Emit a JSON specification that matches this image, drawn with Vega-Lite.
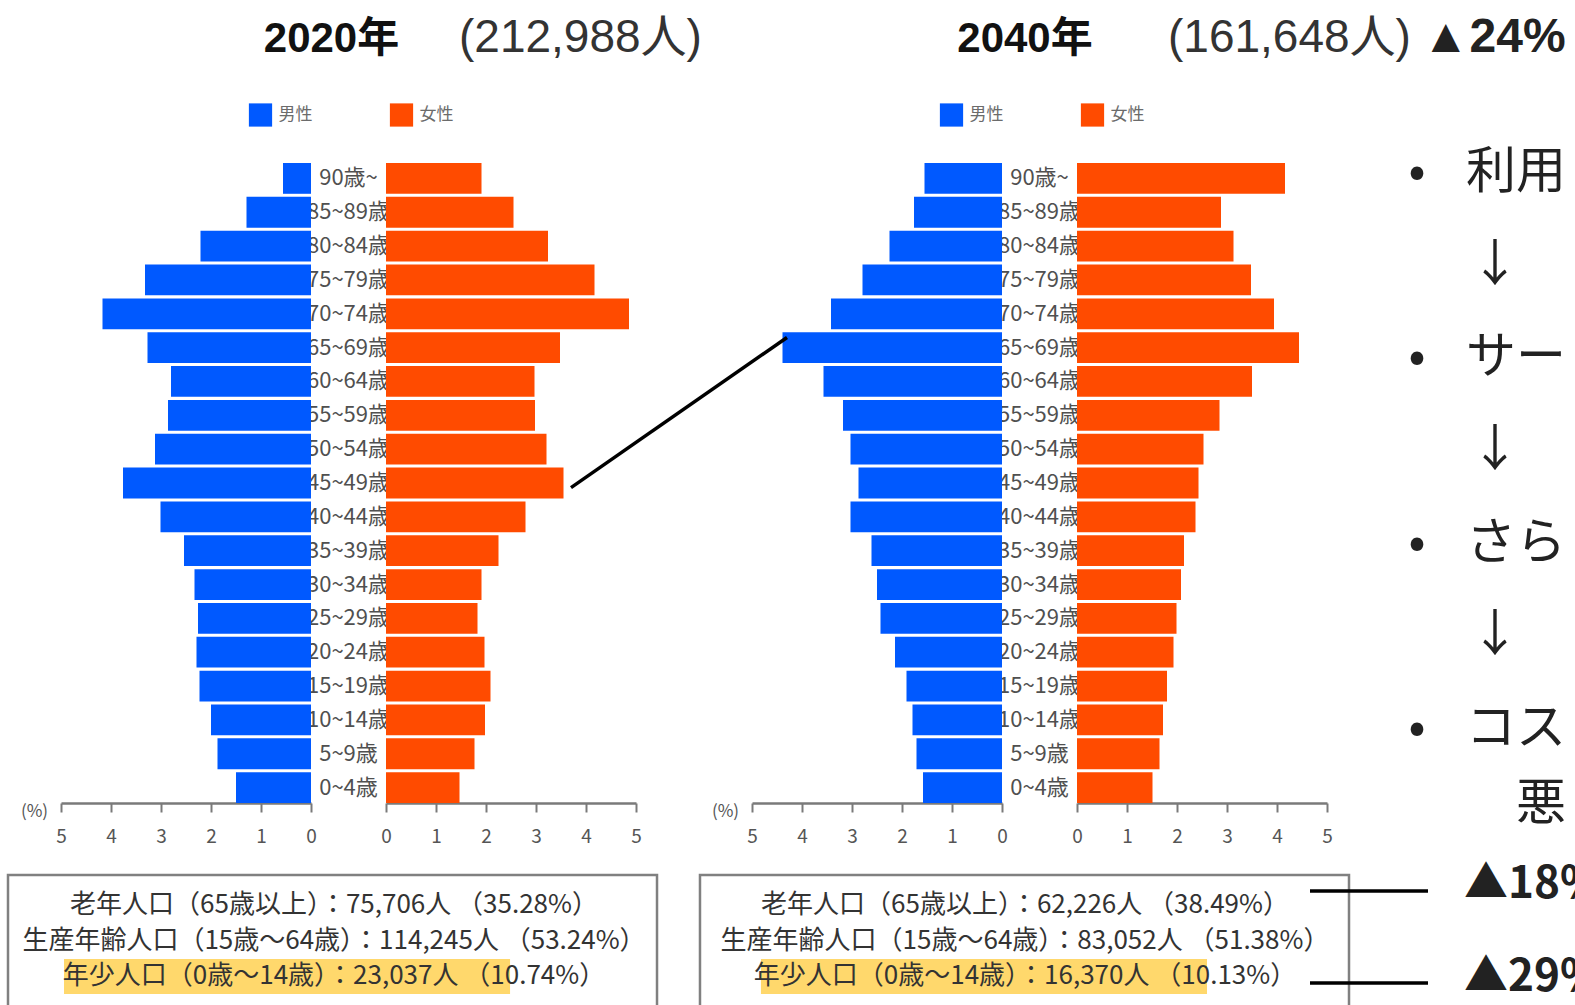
{
  "$schema": "https://vega.github.io/schema/vega-lite/v6.json",
  "width": 1575,
  "height": 1005,
  "autosize": "none",
  "padding": 0,
  "background": "white",
  "config": {
    "view": {"stroke": null},
    "font": "Noto Sans CJK JP",
    "axis": {
      "grid": false,
      "labelFont": "Noto Sans CJK JP",
      "labelFontSize": 19,
      "labelColor": "#555555",
      "labelFlush": false,
      "labelOverlap": false,
      "labelPadding": 15,
      "domainColor": "#7a7a7a",
      "domainWidth": 2.5,
      "tickColor": "#7a7a7a",
      "tickWidth": 2,
      "tickSize": 9,
      "titleFont": "Noto Sans CJK JP",
      "titleFontSize": 17,
      "titleFontWeight": "normal",
      "titleColor": "#555555"
    }
  },
  "datasets": {
    "pop": [
      {"year": "2020", "sex": "男性", "age": "90歳~", "pct": 0.56},
      {"year": "2020", "sex": "男性", "age": "85~89歳", "pct": 1.29},
      {"year": "2020", "sex": "男性", "age": "80~84歳", "pct": 2.21},
      {"year": "2020", "sex": "男性", "age": "75~79歳", "pct": 3.32},
      {"year": "2020", "sex": "男性", "age": "70~74歳", "pct": 4.17},
      {"year": "2020", "sex": "男性", "age": "65~69歳", "pct": 3.27},
      {"year": "2020", "sex": "男性", "age": "60~64歳", "pct": 2.80},
      {"year": "2020", "sex": "男性", "age": "55~59歳", "pct": 2.86},
      {"year": "2020", "sex": "男性", "age": "50~54歳", "pct": 3.12},
      {"year": "2020", "sex": "男性", "age": "45~49歳", "pct": 3.76},
      {"year": "2020", "sex": "男性", "age": "40~44歳", "pct": 3.01},
      {"year": "2020", "sex": "男性", "age": "35~39歳", "pct": 2.54},
      {"year": "2020", "sex": "男性", "age": "30~34歳", "pct": 2.33},
      {"year": "2020", "sex": "男性", "age": "25~29歳", "pct": 2.26},
      {"year": "2020", "sex": "男性", "age": "20~24歳", "pct": 2.29},
      {"year": "2020", "sex": "男性", "age": "15~19歳", "pct": 2.23},
      {"year": "2020", "sex": "男性", "age": "10~14歳", "pct": 2.00},
      {"year": "2020", "sex": "男性", "age": "5~9歳", "pct": 1.87},
      {"year": "2020", "sex": "男性", "age": "0~4歳", "pct": 1.50},
      {"year": "2020", "sex": "女性", "age": "90歳~", "pct": 1.91},
      {"year": "2020", "sex": "女性", "age": "85~89歳", "pct": 2.55},
      {"year": "2020", "sex": "女性", "age": "80~84歳", "pct": 3.24},
      {"year": "2020", "sex": "女性", "age": "75~79歳", "pct": 4.17},
      {"year": "2020", "sex": "女性", "age": "70~74歳", "pct": 4.86},
      {"year": "2020", "sex": "女性", "age": "65~69歳", "pct": 3.48},
      {"year": "2020", "sex": "女性", "age": "60~64歳", "pct": 2.97},
      {"year": "2020", "sex": "女性", "age": "55~59歳", "pct": 2.98},
      {"year": "2020", "sex": "女性", "age": "50~54歳", "pct": 3.21},
      {"year": "2020", "sex": "女性", "age": "45~49歳", "pct": 3.55},
      {"year": "2020", "sex": "女性", "age": "40~44歳", "pct": 2.79},
      {"year": "2020", "sex": "女性", "age": "35~39歳", "pct": 2.25},
      {"year": "2020", "sex": "女性", "age": "30~34歳", "pct": 1.91},
      {"year": "2020", "sex": "女性", "age": "25~29歳", "pct": 1.83},
      {"year": "2020", "sex": "女性", "age": "20~24歳", "pct": 1.97},
      {"year": "2020", "sex": "女性", "age": "15~19歳", "pct": 2.09},
      {"year": "2020", "sex": "女性", "age": "10~14歳", "pct": 1.98},
      {"year": "2020", "sex": "女性", "age": "5~9歳", "pct": 1.77},
      {"year": "2020", "sex": "女性", "age": "0~4歳", "pct": 1.47},
      {"year": "2040", "sex": "男性", "age": "90歳~", "pct": 1.55},
      {"year": "2040", "sex": "男性", "age": "85~89歳", "pct": 1.76},
      {"year": "2040", "sex": "男性", "age": "80~84歳", "pct": 2.25},
      {"year": "2040", "sex": "男性", "age": "75~79歳", "pct": 2.79},
      {"year": "2040", "sex": "男性", "age": "70~74歳", "pct": 3.42},
      {"year": "2040", "sex": "男性", "age": "65~69歳", "pct": 4.39},
      {"year": "2040", "sex": "男性", "age": "60~64歳", "pct": 3.57},
      {"year": "2040", "sex": "男性", "age": "55~59歳", "pct": 3.18},
      {"year": "2040", "sex": "男性", "age": "50~54歳", "pct": 3.03},
      {"year": "2040", "sex": "男性", "age": "45~49歳", "pct": 2.87},
      {"year": "2040", "sex": "男性", "age": "40~44歳", "pct": 3.03},
      {"year": "2040", "sex": "男性", "age": "35~39歳", "pct": 2.61},
      {"year": "2040", "sex": "男性", "age": "30~34歳", "pct": 2.50},
      {"year": "2040", "sex": "男性", "age": "25~29歳", "pct": 2.43},
      {"year": "2040", "sex": "男性", "age": "20~24歳", "pct": 2.14},
      {"year": "2040", "sex": "男性", "age": "15~19歳", "pct": 1.91},
      {"year": "2040", "sex": "男性", "age": "10~14歳", "pct": 1.79},
      {"year": "2040", "sex": "男性", "age": "5~9歳", "pct": 1.71},
      {"year": "2040", "sex": "男性", "age": "0~4歳", "pct": 1.58},
      {"year": "2040", "sex": "女性", "age": "90歳~", "pct": 4.16},
      {"year": "2040", "sex": "女性", "age": "85~89歳", "pct": 2.88},
      {"year": "2040", "sex": "女性", "age": "80~84歳", "pct": 3.13},
      {"year": "2040", "sex": "女性", "age": "75~79歳", "pct": 3.48},
      {"year": "2040", "sex": "女性", "age": "70~74歳", "pct": 3.94},
      {"year": "2040", "sex": "女性", "age": "65~69歳", "pct": 4.44},
      {"year": "2040", "sex": "女性", "age": "60~64歳", "pct": 3.50},
      {"year": "2040", "sex": "女性", "age": "55~59歳", "pct": 2.85},
      {"year": "2040", "sex": "女性", "age": "50~54歳", "pct": 2.53},
      {"year": "2040", "sex": "女性", "age": "45~49歳", "pct": 2.43},
      {"year": "2040", "sex": "女性", "age": "40~44歳", "pct": 2.37},
      {"year": "2040", "sex": "女性", "age": "35~39歳", "pct": 2.14},
      {"year": "2040", "sex": "女性", "age": "30~34歳", "pct": 2.08},
      {"year": "2040", "sex": "女性", "age": "25~29歳", "pct": 1.99},
      {"year": "2040", "sex": "女性", "age": "20~24歳", "pct": 1.93},
      {"year": "2040", "sex": "女性", "age": "15~19歳", "pct": 1.80},
      {"year": "2040", "sex": "女性", "age": "10~14歳", "pct": 1.72},
      {"year": "2040", "sex": "女性", "age": "5~9歳", "pct": 1.65},
      {"year": "2040", "sex": "女性", "age": "0~4歳", "pct": 1.51}
    ],
    "header": [
      {"year": "2020", "part": "year", "text": "2020年"},
      {"year": "2040", "part": "year", "text": "2040年"},
      {"year": "2020", "part": "total", "text": "(212,988人)"},
      {"year": "2040", "part": "total", "text": "(161,648人)"},
      {"year": "2040", "part": "change", "text": "▲24%"}
    ],
    "legend": [
      {"year": "2020", "sex": "男性"},
      {"year": "2020", "sex": "女性"},
      {"year": "2040", "sex": "男性"},
      {"year": "2040", "sex": "女性"}
    ],
    "footer": [
      {"year": "2020", "line": "1", "text": "老年人口（65歳以上）：75,706人 （35.28%）"},
      {"year": "2020", "line": "2", "text": "生産年齢人口（15歳～64歳）：114,245人 （53.24%）"},
      {"year": "2020", "line": "3", "text": "年少人口（0歳～14歳）：23,037人 （10.74%）"},
      {"year": "2040", "line": "1", "text": "老年人口（65歳以上）：62,226人 （38.49%）"},
      {"year": "2040", "line": "2", "text": "生産年齢人口（15歳～64歳）：83,052人 （51.38%）"},
      {"year": "2040", "line": "3", "text": "年少人口（0歳～14歳）：16,370人 （10.13%）"}
    ],
    "callouts": [
      {"row": "老年", "label": "▲18%"},
      {"row": "年少", "label": "▲29%"}
    ],
    "bullets": [
      {"line": 1, "kind": "dot", "text": "•"},
      {"line": 1, "kind": "text", "text": "利用"},
      {"line": 2, "kind": "arrow", "text": "↓"},
      {"line": 3, "kind": "dot", "text": "•"},
      {"line": 3, "kind": "text", "text": "サー"},
      {"line": 4, "kind": "arrow", "text": "↓"},
      {"line": 5, "kind": "dot", "text": "•"},
      {"line": 5, "kind": "text", "text": "さら"},
      {"line": 6, "kind": "arrow", "text": "↓"},
      {"line": 7, "kind": "dot", "text": "•"},
      {"line": 7, "kind": "text", "text": "コス\n悪"}
    ],
    "connector": [
      {"age": "45~49歳", "pct": 3.7, "age2": "65~69歳", "pct2": 8.02}
    ]
  },
  "layer": [
    {
      "data": {"name": "pop"},
      "transform": [{"filter": "datum.sex === '男性'"}],
      "mark": {"type": "text", "fontSize": 22, "color": "#505050", "align": "center", "baseline": "middle"},
      "encoding": {
        "x": {"field": "year", "type": "nominal", "scale": {"type": "point", "domain": ["2020", "2040"], "range": [348.5, 1039.5], "padding": 0}, "axis": null},
        "y": {"field": "age", "type": "nominal", "scale": {"type": "band", "domain": ["90歳~","85~89歳","80~84歳","75~79歳","70~74歳","65~69歳","60~64歳","55~59歳","50~54歳","45~49歳","40~44歳","35~39歳","30~34歳","25~29歳","20~24歳","15~19歳","10~14歳","5~9歳","0~4歳"], "range": [163, 803], "paddingInner": 0.09, "paddingOuter": 0}, "axis": null},
        "text": {"field": "age"}
      }
    },
    {
      "data": {"name": "pop"},
      "transform": [{"filter": "datum.year === '2020' && datum.sex === '男性'"}],
      "mark": {"type": "bar", "color": "#0059FF"},
      "encoding": {
        "x": {"field": "pct", "type": "quantitative", "scale": {"domain": [0, 5], "range": [311, 61], "nice": false}, "axis": {"orient": "bottom", "offset": -202, "values": [0, 1, 2, 3, 4, 5], "format": "d", "title": "(%)", "titleX": 34, "titleY": 8, "titleAngle": 0, "titleAlign": "center", "titleBaseline": "middle"}},
        "y": {"field": "age", "type": "nominal", "scale": {"type": "band", "domain": ["90歳~","85~89歳","80~84歳","75~79歳","70~74歳","65~69歳","60~64歳","55~59歳","50~54歳","45~49歳","40~44歳","35~39歳","30~34歳","25~29歳","20~24歳","15~19歳","10~14歳","5~9歳","0~4歳"], "range": [163, 803], "paddingInner": 0.09, "paddingOuter": 0}, "axis": null}
      }
    },
    {
      "data": {"name": "pop"},
      "transform": [{"filter": "datum.year === '2020' && datum.sex === '女性'"}],
      "mark": {"type": "bar", "color": "#FF4B00"},
      "encoding": {
        "x": {"field": "pct", "type": "quantitative", "scale": {"domain": [0, 5], "range": [386, 636], "nice": false}, "axis": {"orient": "bottom", "offset": -202, "values": [0, 1, 2, 3, 4, 5], "format": "d", "title": null}},
        "y": {"field": "age", "type": "nominal", "scale": {"type": "band", "domain": ["90歳~","85~89歳","80~84歳","75~79歳","70~74歳","65~69歳","60~64歳","55~59歳","50~54歳","45~49歳","40~44歳","35~39歳","30~34歳","25~29歳","20~24歳","15~19歳","10~14歳","5~9歳","0~4歳"], "range": [163, 803], "paddingInner": 0.09, "paddingOuter": 0}, "axis": null}
      }
    },
    {
      "data": {"name": "pop"},
      "transform": [{"filter": "datum.year === '2040' && datum.sex === '男性'"}],
      "mark": {"type": "bar", "color": "#0059FF"},
      "encoding": {
        "x": {"field": "pct", "type": "quantitative", "scale": {"domain": [0, 5], "range": [1002, 752], "nice": false}, "axis": {"orient": "bottom", "offset": -202, "values": [0, 1, 2, 3, 4, 5], "format": "d", "title": "(%)", "titleX": 725, "titleY": 8, "titleAngle": 0, "titleAlign": "center", "titleBaseline": "middle"}},
        "y": {"field": "age", "type": "nominal", "scale": {"type": "band", "domain": ["90歳~","85~89歳","80~84歳","75~79歳","70~74歳","65~69歳","60~64歳","55~59歳","50~54歳","45~49歳","40~44歳","35~39歳","30~34歳","25~29歳","20~24歳","15~19歳","10~14歳","5~9歳","0~4歳"], "range": [163, 803], "paddingInner": 0.09, "paddingOuter": 0}, "axis": null}
      }
    },
    {
      "data": {"name": "pop"},
      "transform": [{"filter": "datum.year === '2040' && datum.sex === '女性'"}],
      "mark": {"type": "bar", "color": "#FF4B00"},
      "encoding": {
        "x": {"field": "pct", "type": "quantitative", "scale": {"domain": [0, 5], "range": [1077, 1327], "nice": false}, "axis": {"orient": "bottom", "offset": -202, "values": [0, 1, 2, 3, 4, 5], "format": "d", "title": null}},
        "y": {"field": "age", "type": "nominal", "scale": {"type": "band", "domain": ["90歳~","85~89歳","80~84歳","75~79歳","70~74歳","65~69歳","60~64歳","55~59歳","50~54歳","45~49歳","40~44歳","35~39歳","30~34歳","25~29歳","20~24歳","15~19歳","10~14歳","5~9歳","0~4歳"], "range": [163, 803], "paddingInner": 0.09, "paddingOuter": 0}, "axis": null}
      }
    },
    {
      "data": {"name": "legend"},
      "transform": [{"filter": "datum.year === '2020'"}],
      "mark": {"type": "square", "size": 540, "filled": true, "opacity": 1},
      "encoding": {
        "x": {"field": "sex", "type": "nominal", "scale": {"type": "point", "domain": ["男性", "女性"], "range": [260.5, 401.5], "padding": 0}, "axis": null},
        "y": {"field": "year", "type": "nominal", "scale": {"type": "point", "domain": ["2020"], "range": [115, 115], "padding": 0}, "axis": null},
        "color": {"field": "sex", "type": "nominal", "scale": {"domain": ["男性", "女性"], "range": ["#0059FF", "#FF4B00"]}, "legend": null}
      }
    },
    {
      "data": {"name": "legend"},
      "transform": [{"filter": "datum.year === '2040'"}],
      "mark": {"type": "square", "size": 540, "filled": true, "opacity": 1},
      "encoding": {
        "x": {"field": "sex", "type": "nominal", "scale": {"type": "point", "domain": ["男性", "女性"], "range": [951.5, 1092.5], "padding": 0}, "axis": null},
        "y": {"field": "year", "type": "nominal", "scale": {"type": "point", "domain": ["2040"], "range": [115, 115], "padding": 0}, "axis": null},
        "color": {"field": "sex", "type": "nominal", "scale": {"domain": ["男性", "女性"], "range": ["#0059FF", "#FF4B00"]}, "legend": null}
      }
    },
    {
      "data": {"name": "legend"},
      "transform": [{"filter": "datum.year === '2020'"}],
      "mark": {"type": "text", "fontSize": 17, "color": "#6b6b6b", "align": "left", "baseline": "middle", "dx": 18},
      "encoding": {
        "x": {"field": "sex", "type": "nominal", "scale": {"type": "point", "domain": ["男性", "女性"], "range": [260.5, 401.5], "padding": 0}, "axis": null},
        "y": {"field": "year", "type": "nominal", "scale": {"type": "point", "domain": ["2020"], "range": [115, 115], "padding": 0}, "axis": null},
        "text": {"field": "sex"}
      }
    },
    {
      "data": {"name": "legend"},
      "transform": [{"filter": "datum.year === '2040'"}],
      "mark": {"type": "text", "fontSize": 17, "color": "#6b6b6b", "align": "left", "baseline": "middle", "dx": 18},
      "encoding": {
        "x": {"field": "sex", "type": "nominal", "scale": {"type": "point", "domain": ["男性", "女性"], "range": [951.5, 1092.5], "padding": 0}, "axis": null},
        "y": {"field": "year", "type": "nominal", "scale": {"type": "point", "domain": ["2040"], "range": [115, 115], "padding": 0}, "axis": null},
        "text": {"field": "sex"}
      }
    },
    {
      "data": {"name": "header"},
      "transform": [{"filter": "datum.part === 'year'"}],
      "mark": {"type": "text", "font": "Liberation Sans, Noto Sans CJK JP", "fontWeight": "bold", "fontSize": 42, "color": "#111111", "align": "center", "baseline": "middle"},
      "encoding": {
        "x": {"field": "year", "type": "nominal", "scale": {"type": "point", "domain": ["2020", "2040"], "range": [331.5, 1025], "padding": 0}, "axis": null},
        "y": {"field": "year", "type": "nominal", "scale": {"type": "point", "domain": ["2020", "2040"], "range": [39, 39], "padding": 0}, "axis": null},
        "text": {"field": "text"}
      }
    },
    {
      "data": {"name": "header"},
      "transform": [{"filter": "datum.part === 'total'"}],
      "mark": {"type": "text", "font": "Liberation Sans, Noto Sans CJK JP", "fontSize": 46, "color": "#333333", "align": "left", "baseline": "middle"},
      "encoding": {
        "x": {"field": "year", "type": "nominal", "scale": {"type": "point", "domain": ["2020", "2040"], "range": [459, 1168], "padding": 0}, "axis": null},
        "y": {"field": "year", "type": "nominal", "scale": {"type": "point", "domain": ["2020", "2040"], "range": [38, 38], "padding": 0}, "axis": null},
        "text": {"field": "text"}
      }
    },
    {
      "data": {"name": "header"},
      "transform": [{"filter": "datum.part === 'change'"}],
      "mark": {"type": "text", "font": "Liberation Sans, Noto Sans CJK JP", "fontSize": 48, "fontWeight": "bold", "color": "#222222", "align": "left", "baseline": "middle"},
      "encoding": {
        "x": {"field": "year", "type": "nominal", "scale": {"type": "point", "domain": ["2040"], "range": [1422, 1422], "padding": 0}, "axis": null},
        "y": {"field": "year", "type": "nominal", "scale": {"type": "point", "domain": ["2040"], "range": [38, 38], "padding": 0}, "axis": null},
        "text": {"field": "text"}
      }
    },
    {
      "data": {"name": "footer"},
      "transform": [{"filter": "datum.line === '3'"}],
      "mark": {"type": "rect", "color": "#FFD45C", "opacity": 0.9},
      "encoding": {
        "x": {"field": "year", "type": "nominal", "scale": {"type": "band", "domain": ["2020", "2040"], "range": [64, 1207], "paddingInner": 0.36, "paddingOuter": 0}, "axis": null},
        "y": {"field": "line", "type": "nominal", "scale": {"type": "band", "domain": ["3"], "range": [959, 994], "paddingInner": 0, "paddingOuter": 0}, "axis": null}
      }
    },
    {
      "data": {"name": "footer"},
      "mark": {"type": "text", "fontSize": 26, "color": "#333333", "align": "center", "baseline": "middle"},
      "encoding": {
        "x": {"field": "year", "type": "nominal", "scale": {"type": "point", "domain": ["2020", "2040"], "range": [334, 1025], "padding": 0}, "axis": null},
        "y": {"field": "line", "type": "nominal", "scale": {"type": "point", "domain": ["1", "2", "3"], "range": [905, 976], "padding": 0}, "axis": null},
        "text": {"field": "text"}
      }
    },
    {
      "data": {"name": "footer"},
      "transform": [{"filter": "datum.line === '1'"}],
      "mark": {"type": "rect", "filled": false, "color": "#808080", "strokeWidth": 2.5},
      "encoding": {
        "x": {"field": "year", "type": "nominal", "scale": {"type": "band", "domain": ["2020", "2040"], "range": [8, 1349], "paddingInner": 0.0621, "paddingOuter": 0}, "axis": null},
        "y": {"field": "line", "type": "nominal", "scale": {"type": "band", "domain": ["1"], "range": [875, 1030], "paddingInner": 0, "paddingOuter": 0}, "axis": null}
      }
    },
    {
      "data": {"name": "callouts"},
      "mark": {"type": "rule", "color": "#000000", "strokeWidth": 3.5},
      "encoding": {
        "x": {"datum": "start", "type": "nominal", "scale": {"type": "point", "domain": ["start", "end"], "range": [1310, 1428], "padding": 0}, "axis": null},
        "x2": {"datum": "end"},
        "y": {"field": "row", "type": "nominal", "scale": {"type": "point", "domain": ["老年", "年少"], "range": [891, 983], "padding": 0}, "axis": null}
      }
    },
    {
      "data": {"name": "callouts"},
      "mark": {"type": "text", "fontSize": 44, "fontWeight": "bold", "color": "#222222", "align": "left", "baseline": "middle", "dx": 36},
      "encoding": {
        "x": {"datum": "end", "type": "nominal", "scale": {"type": "point", "domain": ["start", "end"], "range": [1310, 1428], "padding": 0}, "axis": null},
        "y": {"field": "row", "type": "nominal", "scale": {"type": "point", "domain": ["老年", "年少"], "range": [885, 978], "padding": 0}, "axis": null},
        "text": {"field": "label"}
      }
    },
    {
      "data": {"name": "bullets"},
      "transform": [{"filter": "datum.kind !== 'text'"}],
      "mark": {"type": "text", "fontSize": 50, "color": "#222222", "align": "center", "baseline": "alphabetic", "dy": 19},
      "encoding": {
        "x": {"field": "kind", "type": "nominal", "scale": {"type": "point", "domain": ["dot", "arrow"], "range": [1417, 1495], "padding": 0}, "axis": null},
        "y": {"field": "line", "type": "quantitative", "scale": {"domain": [1, 7], "range": [169, 725], "nice": false, "zero": false}, "axis": null},
        "text": {"field": "text"}
      }
    },
    {
      "data": {"name": "bullets"},
      "transform": [{"filter": "datum.kind === 'text'"}],
      "mark": {"type": "text", "fontSize": 50, "color": "#222222", "align": "right", "baseline": "alphabetic", "dy": 19, "lineBreak": "\n", "lineHeight": 76},
      "encoding": {
        "x": {"field": "kind", "type": "nominal", "scale": {"type": "point", "domain": ["text"], "range": [1566, 1566], "padding": 0}, "axis": null},
        "y": {"field": "line", "type": "quantitative", "scale": {"domain": [1, 7], "range": [169, 725], "nice": false, "zero": false}, "axis": null},
        "text": {"field": "text"}
      }
    },
    {
      "data": {"name": "connector"},
      "mark": {"type": "rule", "color": "#000000", "strokeWidth": 3.5},
      "encoding": {
        "x": {"field": "pct", "type": "quantitative", "scale": {"domain": [0, 5], "range": [386, 636], "nice": false}, "axis": null},
        "x2": {"field": "pct2"},
        "y": {"field": "age", "type": "nominal", "bandPosition": 0.65, "scale": {"type": "band", "domain": ["90歳~","85~89歳","80~84歳","75~79歳","70~74歳","65~69歳","60~64歳","55~59歳","50~54歳","45~49歳","40~44歳","35~39歳","30~34歳","25~29歳","20~24歳","15~19歳","10~14歳","5~9歳","0~4歳"], "range": [163, 803], "paddingInner": 0.09, "paddingOuter": 0}, "axis": null},
        "y2": {"field": "age2", "bandPosition": 0.17}
      }
    }
  ],
  "resolve": {
    "scale": {"x": "independent", "y": "independent", "color": "independent"},
    "axis": {"x": "independent", "y": "independent"}
  }
}
